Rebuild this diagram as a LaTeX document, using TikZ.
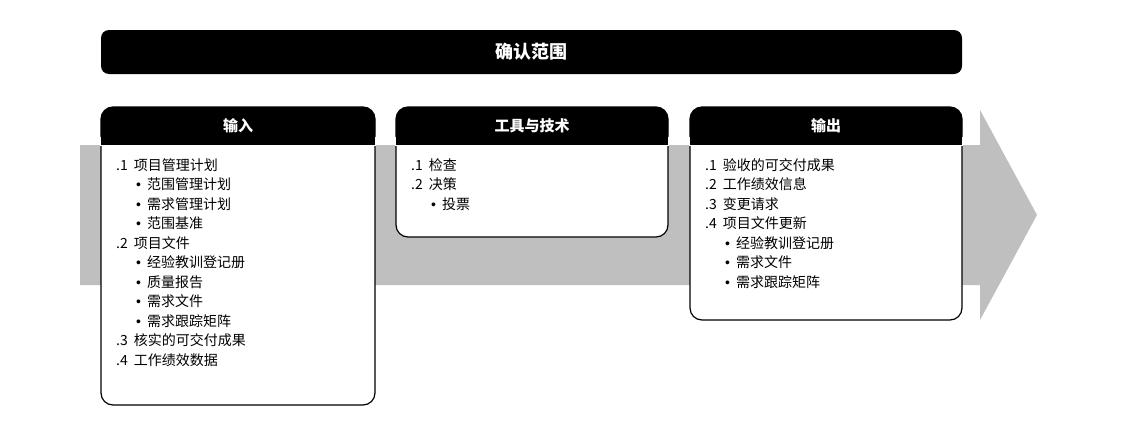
\documentclass[tikz,border=0pt]{standalone}
\usepackage{fontspec}
\setmainfont{Noto Sans CJK SC}
\newfontfamily\bulfont{Liberation Sans}
\usetikzlibrary{positioning}

\tikzset{
  boxframe/.style={draw=black, line width=1.2pt, fill=white, rounded corners=12pt},
  boxhead/.style={fill=black, rounded corners=12pt},
  headtext/.style={text=white, font=\fontsize{15}{17}\selectfont\bfseries},
  itemtext/.style={anchor=north west, align=left, inner sep=0pt,
    font=\fontsize{14}{19.5}\selectfont}
}
\newcommand{\bul}{\hspace*{20pt}{\bulfont •}\hspace{6pt}}

\begin{document}
\begin{tikzpicture}[x=1pt, y=-1pt]
  \useasboundingbox (0,0) rectangle (1136,434);

  % grey arrow
  \fill[black!25] (80,145) -- (980,145) -- (980,110) -- (1037,215)
    -- (980,320) -- (980,285) -- (80,285) -- cycle;

  % title
  \fill[boxhead, rounded corners=8pt] (101,30) rectangle (962,74);
  \node[headtext, font=\fontsize{18}{20}\selectfont\bfseries] (title) at (531,52) {确认范围};

  % boxes
  \foreach \xa/\xb/\yb/\nm/\lbl in {101/375/405/inbox/输入, 396/668/237/toolbox/工具与技术, 690/962/320/outbox/输出}{
    \draw[boxframe] (\xa,107) rectangle (\xb,\yb);
    \fill[boxhead] (\xa,107) -- (\xa,145) -- (\xb,145) -- (\xb,107) -- cycle;
    \fill[white] (\xa-1,137) rectangle (\xb+1,145.5);
    \fill[black] (\xa,130) rectangle (\xb,145);
    \node[headtext] (\nm) at ({(\xa+\xb)/2},126) {\lbl};
  }

  % contents
  \node[itemtext] (initems) at (116,158) {%
    .1\hspace{6pt}项目管理计划\\
    \bul 范围管理计划\\
    \bul 需求管理计划\\
    \bul 范围基准\\
    .2\hspace{6pt}项目文件\\
    \bul 经验教训登记册\\
    \bul 质量报告\\
    \bul 需求文件\\
    \bul 需求跟踪矩阵\\
    .3\hspace{6pt}核实的可交付成果\\
    .4\hspace{6pt}工作绩效数据};
  \node[itemtext] (toolitems) at (411,158) {%
    .1\hspace{6pt}检查\\
    .2\hspace{6pt}决策\\
    \bul 投票};
  \node[itemtext] (outitems) at (705,158) {%
    .1\hspace{6pt}验收的可交付成果\\
    .2\hspace{6pt}工作绩效信息\\
    .3\hspace{6pt}变更请求\\
    .4\hspace{6pt}项目文件更新\\
    \bul 经验教训登记册\\
    \bul 需求文件\\
    \bul 需求跟踪矩阵};
\end{tikzpicture}
\end{document}
